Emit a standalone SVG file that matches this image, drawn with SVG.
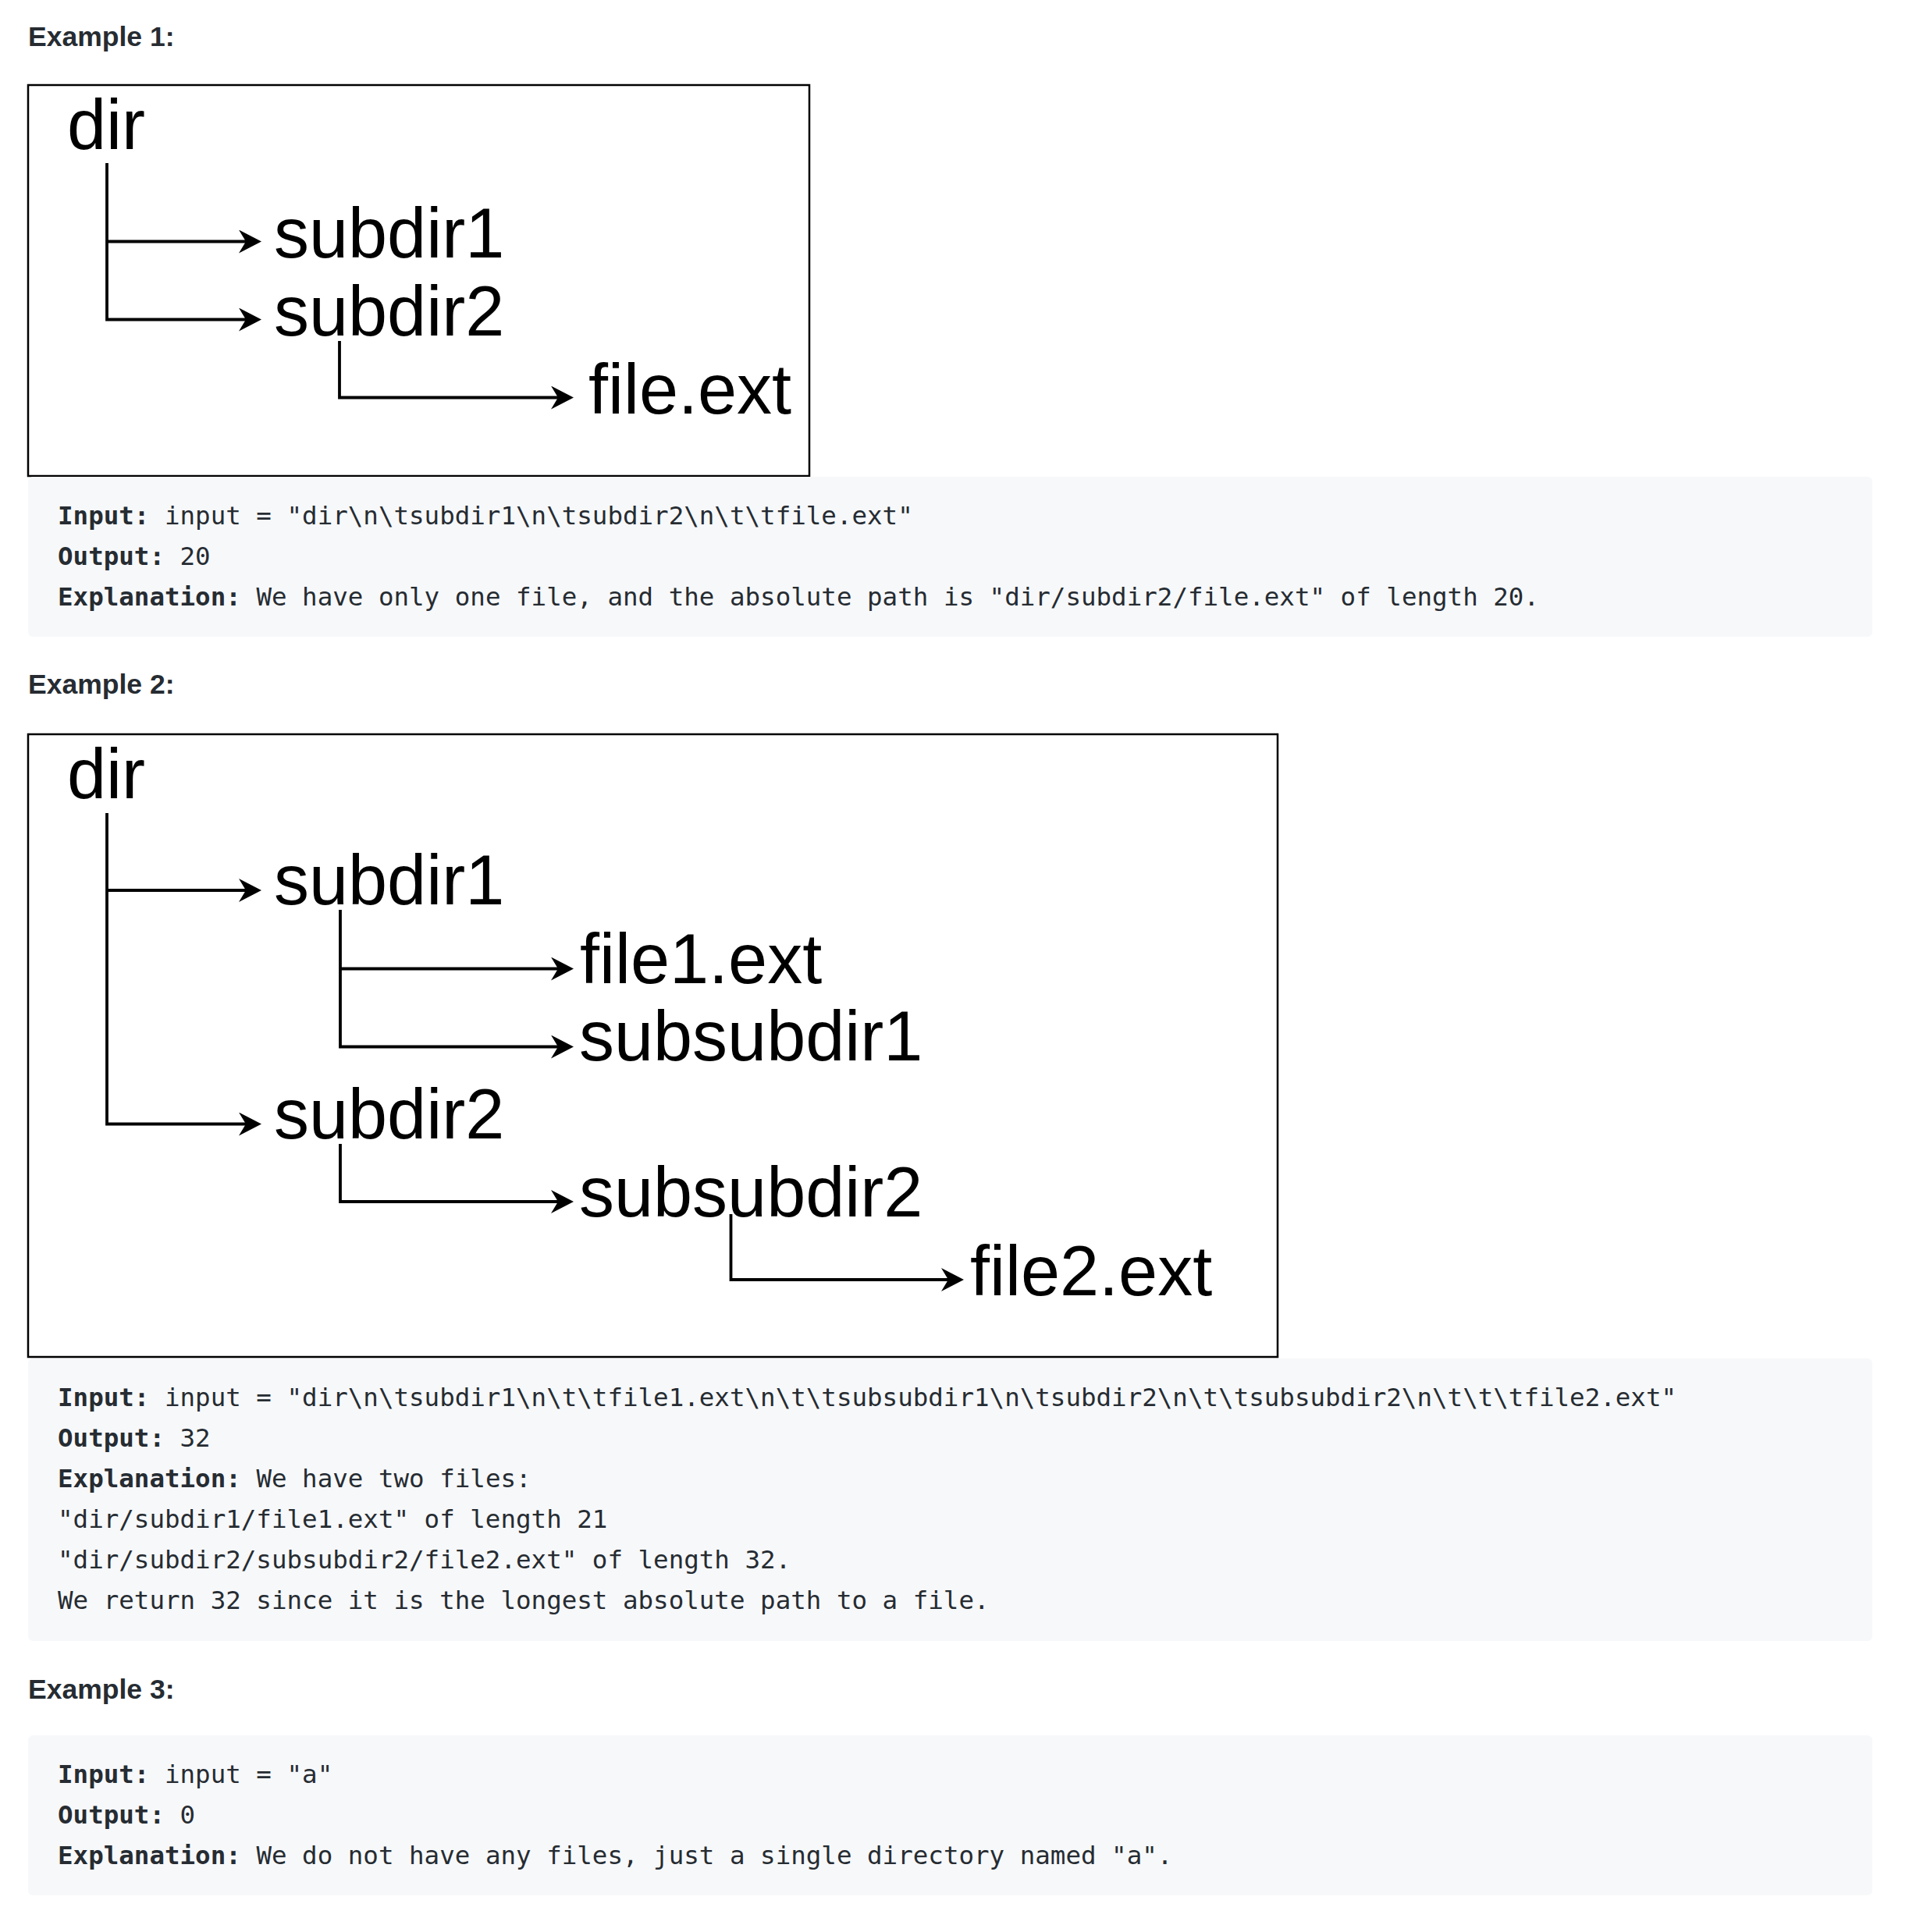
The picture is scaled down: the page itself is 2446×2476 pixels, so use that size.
<svg xmlns="http://www.w3.org/2000/svg" width="2446" height="2476" viewBox="0 0 2446 2476">
<style>
.h{font-family:"Liberation Sans",Arial,sans-serif;font-weight:bold;font-size:35.5px;fill:#262c32}
.t{font-family:"Liberation Sans",Arial,sans-serif;font-size:90px;fill:#000}
.c{font-family:"DejaVu Sans Mono","Liberation Mono",monospace;font-size:32.5px;fill:#262c32;white-space:pre}
.c .b{font-weight:bold}
.box{fill:#fff;stroke:#000;stroke-width:2.5}
.code{fill:#f7f8fa}
.ln{fill:none;stroke:#000;stroke-width:3.8;marker-end:url(#ah)}
</style>
<defs>
<marker id="ah" markerUnits="userSpaceOnUse" markerWidth="32" markerHeight="32" refX="19" refY="15" orient="auto">
<path d="M0,0 L29,15 L0,30 L9,15 Z" fill="#000"/>
</marker>
</defs>
<rect width="2446" height="2476" fill="#fff"/>

<text class="h" x="36" y="59">Example 1:</text>
<rect class="box" x="36" y="109" width="1001" height="501"/>
<g id="ex1-dir"><text class="t" x="86" y="191">dir</text></g>
<g id="ex1-subdir1"><text class="t" x="351" y="329.5">subdir1</text></g>
<g id="ex1-subdir2"><text class="t" x="351" y="429.5">subdir2</text></g>
<g id="ex1-file"><text class="t" x="754" y="530">file.ext</text></g>
<g id="ex1-connectors">
<path class="ln" d="M137,209 V409.5 H325"/>
<path class="ln" d="M137,309.5 H325"/>
<path class="ln" d="M435,437 V509.5 H725"/>
</g>
<g id="ex1-code">
<rect class="code" x="36" y="611" width="2363" height="205" rx="6"/>
<text class="c" x="74" y="671.5" xml:space="preserve"><tspan class="b">Input:</tspan> input = "dir\n\tsubdir1\n\tsubdir2\n\t\tfile.ext"</text>
<text class="c" x="74" y="723.5" xml:space="preserve"><tspan class="b">Output:</tspan> 20</text>
<text class="c" x="74" y="775.5" xml:space="preserve"><tspan class="b">Explanation:</tspan> We have only one file, and the absolute path is "dir/subdir2/file.ext" of length 20.</text>
</g>

<text class="h" x="36" y="889">Example 2:</text>
<rect class="box" x="36" y="941" width="1601" height="798"/>
<g id="ex2-dir"><text class="t" x="86" y="1023">dir</text></g>
<g id="ex2-subdir1"><text class="t" x="351" y="1159">subdir1</text></g>
<g id="ex2-file1"><text class="t" x="743" y="1260">file1.ext</text></g>
<g id="ex2-subsubdir1"><text class="t" x="742" y="1358.5">subsubdir1</text></g>
<g id="ex2-subdir2"><text class="t" x="351" y="1458.5">subdir2</text></g>
<g id="ex2-subsubdir2"><text class="t" x="742" y="1559">subsubdir2</text></g>
<g id="ex2-file2"><text class="t" x="1243" y="1659.5">file2.ext</text></g>
<g id="ex2-connectors">
<path class="ln" d="M137,1042 V1440.5 H325"/>
<path class="ln" d="M137,1141 H325"/>
<path class="ln" d="M436,1166 V1341.5 H725"/>
<path class="ln" d="M436,1241.5 H725"/>
<path class="ln" d="M436,1466 V1540 H725"/>
<path class="ln" d="M936.5,1556 V1640 H1225"/>
</g>
<g id="ex2-code">
<rect class="code" x="36" y="1741" width="2363" height="362" rx="6"/>
<text class="c" x="74" y="1801.5" xml:space="preserve"><tspan class="b">Input:</tspan> input = "dir\n\tsubdir1\n\t\tfile1.ext\n\t\tsubsubdir1\n\tsubdir2\n\t\tsubsubdir2\n\t\t\tfile2.ext"</text>
<text class="c" x="74" y="1853.5" xml:space="preserve"><tspan class="b">Output:</tspan> 32</text>
<text class="c" x="74" y="1905.5" xml:space="preserve"><tspan class="b">Explanation:</tspan> We have two files:</text>
<text class="c" x="74" y="1957.5" xml:space="preserve">"dir/subdir1/file1.ext" of length 21</text>
<text class="c" x="74" y="2009.5" xml:space="preserve">"dir/subdir2/subsubdir2/file2.ext" of length 32.</text>
<text class="c" x="74" y="2061.5" xml:space="preserve">We return 32 since it is the longest absolute path to a file.</text>
</g>

<text class="h" x="36" y="2177">Example 3:</text>
<g id="ex3-code">
<rect class="code" x="36" y="2224" width="2363" height="205" rx="6"/>
<text class="c" x="74" y="2284.5" xml:space="preserve"><tspan class="b">Input:</tspan> input = "a"</text>
<text class="c" x="74" y="2336.5" xml:space="preserve"><tspan class="b">Output:</tspan> 0</text>
<text class="c" x="74" y="2388.5" xml:space="preserve"><tspan class="b">Explanation:</tspan> We do not have any files, just a single directory named "a".</text>
</g>
</svg>
